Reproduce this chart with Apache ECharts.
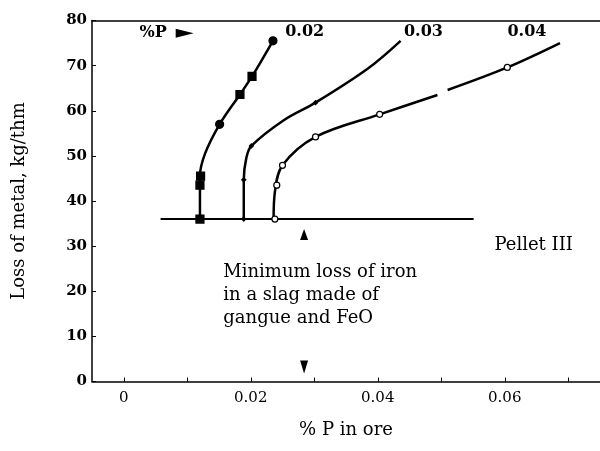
<!DOCTYPE html>
<html>
<head>
<meta charset="utf-8">
<title>Loss of metal vs % P in ore</title>
<script src="https://cdn.jsdelivr.net/npm/echarts@6.0.0/dist/echarts.min.js"></script>
<style>
    body { margin: 0; background: #fff; }
    #chart { width: 600px; height: 451px; }
</style>
</head>
<body>
<div id="chart"></div>
<script>
// x = % P in ore, y = loss of metal (kg/thm)
const curve02 = [[0.0120, 36], [0.0120, 45.5], [0.0128, 50.5], [0.0151, 57], [0.0183, 63.6], [0.0202, 67.6], [0.0235, 75.5]];
const marks02Square = [[0.0120, 36], [0.0120, 43.5], [0.0121, 45.5], [0.0183, 63.6], [0.0202, 67.6]];
const marks02Circle = [[0.0151, 57], [0.0235, 75.5]];

const curve03 = [[0.0189, 36], [0.0189, 44.7], [0.0193, 49.5], [0.0201, 52.2], [0.0252, 57.9], [0.0302, 61.8], [0.0384, 69.3], [0.0436, 75.5]];
const marks03 = [[0.0189, 36], [0.0189, 44.7], [0.0201, 52.2], [0.0302, 61.8]];

// 0.04 curve is broken in two pieces in the original
const curve04a = [[0.0236, 36], [0.0238, 42], [0.0250, 47.9], [0.0302, 54.2], [0.0403, 59.2], [0.0494, 63.5]];
const curve04b = [[0.0510, 64.6], [0.0604, 69.6], [0.0687, 75]];
const marks04 = [[0.0238, 36], [0.0241, 43.5], [0.0250, 47.9], [0.0302, 54.2], [0.0403, 59.2], [0.0604, 69.6]];

// minimum loss line
const floorLine = [[0.0058, 36], [0.0551, 36]];
const arrowUp = [0.0284, 32.6];
const arrowDown = [0.0284, 3.2];
const arrowP = [0.0096, 77.2];

// annotations
const centerNotes = [
    { name: '0.02', value: [0.0285, 77.5] },
    { name: '0.03', value: [0.0472, 77.5] },
    { name: '0.04', value: [0.0635, 77.5] }
];
const leftNotes = [
    { name: '%P', value: [0.0024, 77.3], bold: true },
    { name: 'Pellet III', value: [0.0583, 30.2] },
    { name: 'Minimum loss of iron\nin a slag made of\ngangue and FeO', value: [0.0156, 19.0] }
];

const xLabelValues = [0, 0.02, 0.04, 0.06];
const xTickValues = [0, 0.01, 0.02, 0.03, 0.04, 0.05, 0.06, 0.07];

const FONT = 'DejaVu Serif';
const INK = '#000';

const chart = echarts.init(document.getElementById('chart'));

function curveSeries(data) {
    return {
        type: 'line', data: data, smooth: 0.35,
        showSymbol: false, silent: true,
        lineStyle: { color: INK, width: 2.5 }
    };
}

function markSeries(data, symbol, size, fill) {
    return {
        type: 'scatter', data: data, symbol: symbol, symbolSize: size, silent: true, z: 5,
        itemStyle: { color: fill, borderColor: INK, borderWidth: 1.2, opacity: 1 }
    };
}

const option = {
    animation: false,
    grid: { left: 92, right: 0, top: 20.5, bottom: 69.5 },
    xAxis: [{
        type: 'value', min: -0.005, max: 0.075,
        name: '% P in ore', nameLocation: 'middle', nameGap: 40,
        nameTextStyle: { fontFamily: FONT, fontSize: 18, color: INK },
        axisLine: { lineStyle: { color: INK, width: 1.5 } },
        axisTick: { inside: true, length: 4, customValues: xTickValues, lineStyle: { color: INK } },
        axisLabel: { customValues: xLabelValues, margin: 9, fontFamily: FONT, fontSize: 15, color: INK,
            formatter: v => v === 0 ? '0' : v.toFixed(2) },
        splitLine: { show: false }
    }, {
        type: 'value', min: -0.005, max: 0.075, position: 'top',
        axisLine: { show: true, lineStyle: { color: INK, width: 1.5 } },
        axisTick: { show: false }, axisLabel: { show: false }, splitLine: { show: false }
    }],
    yAxis: {
        type: 'value', min: 0, max: 80, interval: 10,
        name: 'Loss of metal, kg/thm', nameLocation: 'middle', nameGap: 64,
        nameTextStyle: { fontFamily: FONT, fontSize: 18, color: INK },
        axisLine: { show: true, onZero: false, lineStyle: { color: INK, width: 1.5 } },
        axisTick: { inside: true, length: 4, lineStyle: { color: INK } },
        axisLabel: { margin: 5, fontFamily: FONT, fontSize: 15, fontWeight: 'bold', color: INK },
        splitLine: { show: false }
    },
    series: [
        curveSeries(curve02),
        curveSeries(curve03),
        curveSeries(curve04a),
        curveSeries(curve04b),
        { type: 'line', data: floorLine, showSymbol: false, silent: true, lineStyle: { color: INK, width: 2 } },
        markSeries(marks02Square, 'rect', 8, INK),
        markSeries(marks02Circle, 'circle', 8, INK),
        markSeries(marks03, 'diamond', 4, INK),
        markSeries(marks04, 'circle', 6, '#fff'),
        {
            type: 'scatter', silent: true, z: 6,
            data: [
                { value: arrowUp, symbol: 'triangle', symbolSize: [8, 11] },
                { value: arrowDown, symbol: 'triangle', symbolSize: [8, 13], symbolRotate: 180 },
                { value: arrowP, symbol: 'triangle', symbolSize: [9, 18], symbolRotate: -90 }
            ],
            itemStyle: { color: INK, opacity: 1 }
        },
        {
            type: 'scatter', silent: true, symbolSize: 1,
            itemStyle: { color: 'rgba(0,0,0,0)', opacity: 1 },
            data: centerNotes,
            label: { show: true, position: 'inside', formatter: '{b}', fontFamily: FONT,
                fontSize: 16, fontWeight: 'bold', color: INK, textBorderWidth: 0 }
        },
        {
            type: 'scatter', silent: true, symbolSize: 1,
            itemStyle: { color: 'rgba(0,0,0,0)', opacity: 1 },
            data: leftNotes.map(n => ({
                name: n.name, value: n.value,
                label: { fontWeight: n.bold ? 'bold' : 'normal', fontSize: n.bold ? 16 : 18 }
            })),
            label: { show: true, position: 'right', distance: 0, formatter: '{b}', fontFamily: FONT,
                fontSize: 18, lineHeight: 23, color: INK, align: 'left', verticalAlign: 'middle' }
        }
    ]
};

chart.setOption(option);
</script>
</body>
</html>
